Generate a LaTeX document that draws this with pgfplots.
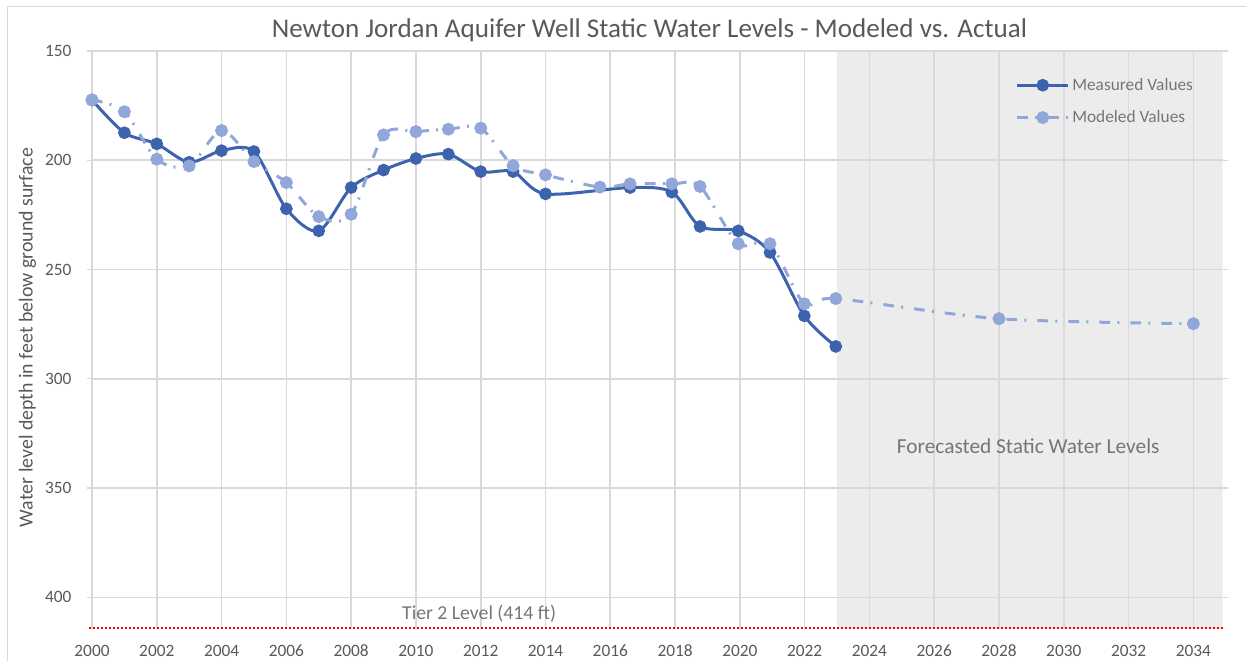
\documentclass[border=0pt]{standalone}
\usepackage{fontspec}
\setmainfont{Carlito}
\usepackage{pgfplots}
\pgfplotsset{compat=1.18}
\definecolor{meas}{RGB}{61,99,175}
\definecolor{model}{RGB}{145,167,218}
\definecolor{gridc}{RGB}{217,217,217}
\definecolor{fcgray}{RGB}{236,236,236}
\definecolor{txt}{RGB}{89,89,89}
\definecolor{ltxt}{RGB}{118,118,118}
\begin{document}
\begin{tikzpicture}
\begin{axis}[
  at={(0,0)}, anchor=south west,
  scale only axis, width=847.9pt, height=433.5pt,
  xmin=2000, xmax=2034.9, ymin=150, ymax=414.5, y dir=reverse,
  xtick={2000,2002,...,2034}, ytick={150,200,...,400},
  grid=major, major grid style={draw=gridc, line width=1.2pt},
  axis line style={draw=none},
  xtick style={draw=none},
  ytick style={draw=gridc, line width=1pt},
  tick align=outside, major tick length=3.75pt,
  /pgf/number format/1000 sep={},
  /pgf/number format/assume math mode=true,
  ticklabel style={font=\fontsize{13}{15}\selectfont, text=txt},
  xticklabel style={anchor=base, yshift=-16.5pt, inner sep=0pt},
  yticklabel style={anchor=east, inner sep=0pt, xshift=-11.5pt},
  set layers=standard,
  clip=false,
  legend style={at={(0.817,0.958)}, anchor=north west, draw=none, fill=none,
    inner sep=0pt, row sep=9.75pt, font=\fontsize{13}{15}\selectfont, text=ltxt,
    /tikz/every even column/.append style={column sep=4pt}},
  legend cell align=left,
  legend image code/.code={\draw[#1, mark repeat=2, mark phase=2] plot coordinates {(0pt,0pt) (19pt,0pt) (38pt,0pt)};},
]
\addplot[fill=fcgray, draw=none, on layer=axis background, forget plot]
  coordinates {(2023,150) (2034.9,150) (2034.9,414.5) (2023,414.5) (2023,150)};
\addplot[draw=red, line width=1.5pt, dash pattern=on 1.5pt off 1.5pt, forget plot]
  coordinates {(1999.9,414) (2034.9,414)};
\addplot[meas, line width=2.25pt, smooth, mark=*, mark size=3.6pt,
  mark options={solid, fill=meas, draw=none}] table {
x y
2000 172.4
2001 187.4
2002 192.5
2003 200.9
2004 195.6
2005 196.0
2006 222.2
2007 232.3
2008 212.5
2009 204.5
2010 199.2
2011 197.2
2012 205.2
2013 205.2
2014 215.4
2016.61 212.5
2017.9 214.6
2018.77 230.3
2019.95 232.3
2020.93 242.2
2021.99 271.2
2022.96 285.2
};
\addlegendentry{Measured Values}
\addplot[model, line width=2.25pt, smooth, dash pattern=on 8pt off 5.5pt on 1.5pt off 8.25pt,
  mark=*, mark size=3.7pt, mark options={solid, fill=model, draw=none}] table {
x y
2000 172.4
2001 177.8
2002 199.5
2003 202.6
2004 186.4
2005 200.6
2006 210.2
2007 225.8
2008 224.7
2009 188.4
2010 186.9
2011 185.8
2012 185.3
2013 202.5
2014 206.7
2015.68 212.3
2016.61 210.8
2017.9 210.8
2018.77 212.0
2019.95 238.2
2020.93 238.2
2021.99 265.7
2022.96 263.3
2028 272.5
2034 274.8
};
\addlegendentry{Modeled Values}
\node[anchor=base, font=\fontsize{14.8}{17}\selectfont, text=ltxt] at (axis cs:2011.95,410) {Tier 2 Level (414 ft)};
\node[anchor=base, font=\fontsize{16}{19}\selectfont, text=ltxt] at (axis cs:2028.9,334.3) {Forecasted Static Water Levels};
\end{axis}
\node[anchor=base, font=\fontsize{20.3}{24}\selectfont, text=txt] at (418.1pt,443.8pt) {Newton Jordan Aquifer Well Static Water Levels - Modeled vs. Actual};
\node[anchor=base, rotate=90, font=\fontsize{14.9}{17}\selectfont, text=txt] at (-44.6pt,218.6pt) {Water level depth in feet below ground surface};
\draw[gridc, line width=0.75pt] (-63pt,-24pt) -- (-63pt,466.5pt) -- (866pt,466.5pt);
\pgfresetboundingbox
\useasboundingbox (-69pt,-24pt) rectangle (865.5pt,471.75pt);
\end{tikzpicture}
\end{document}
